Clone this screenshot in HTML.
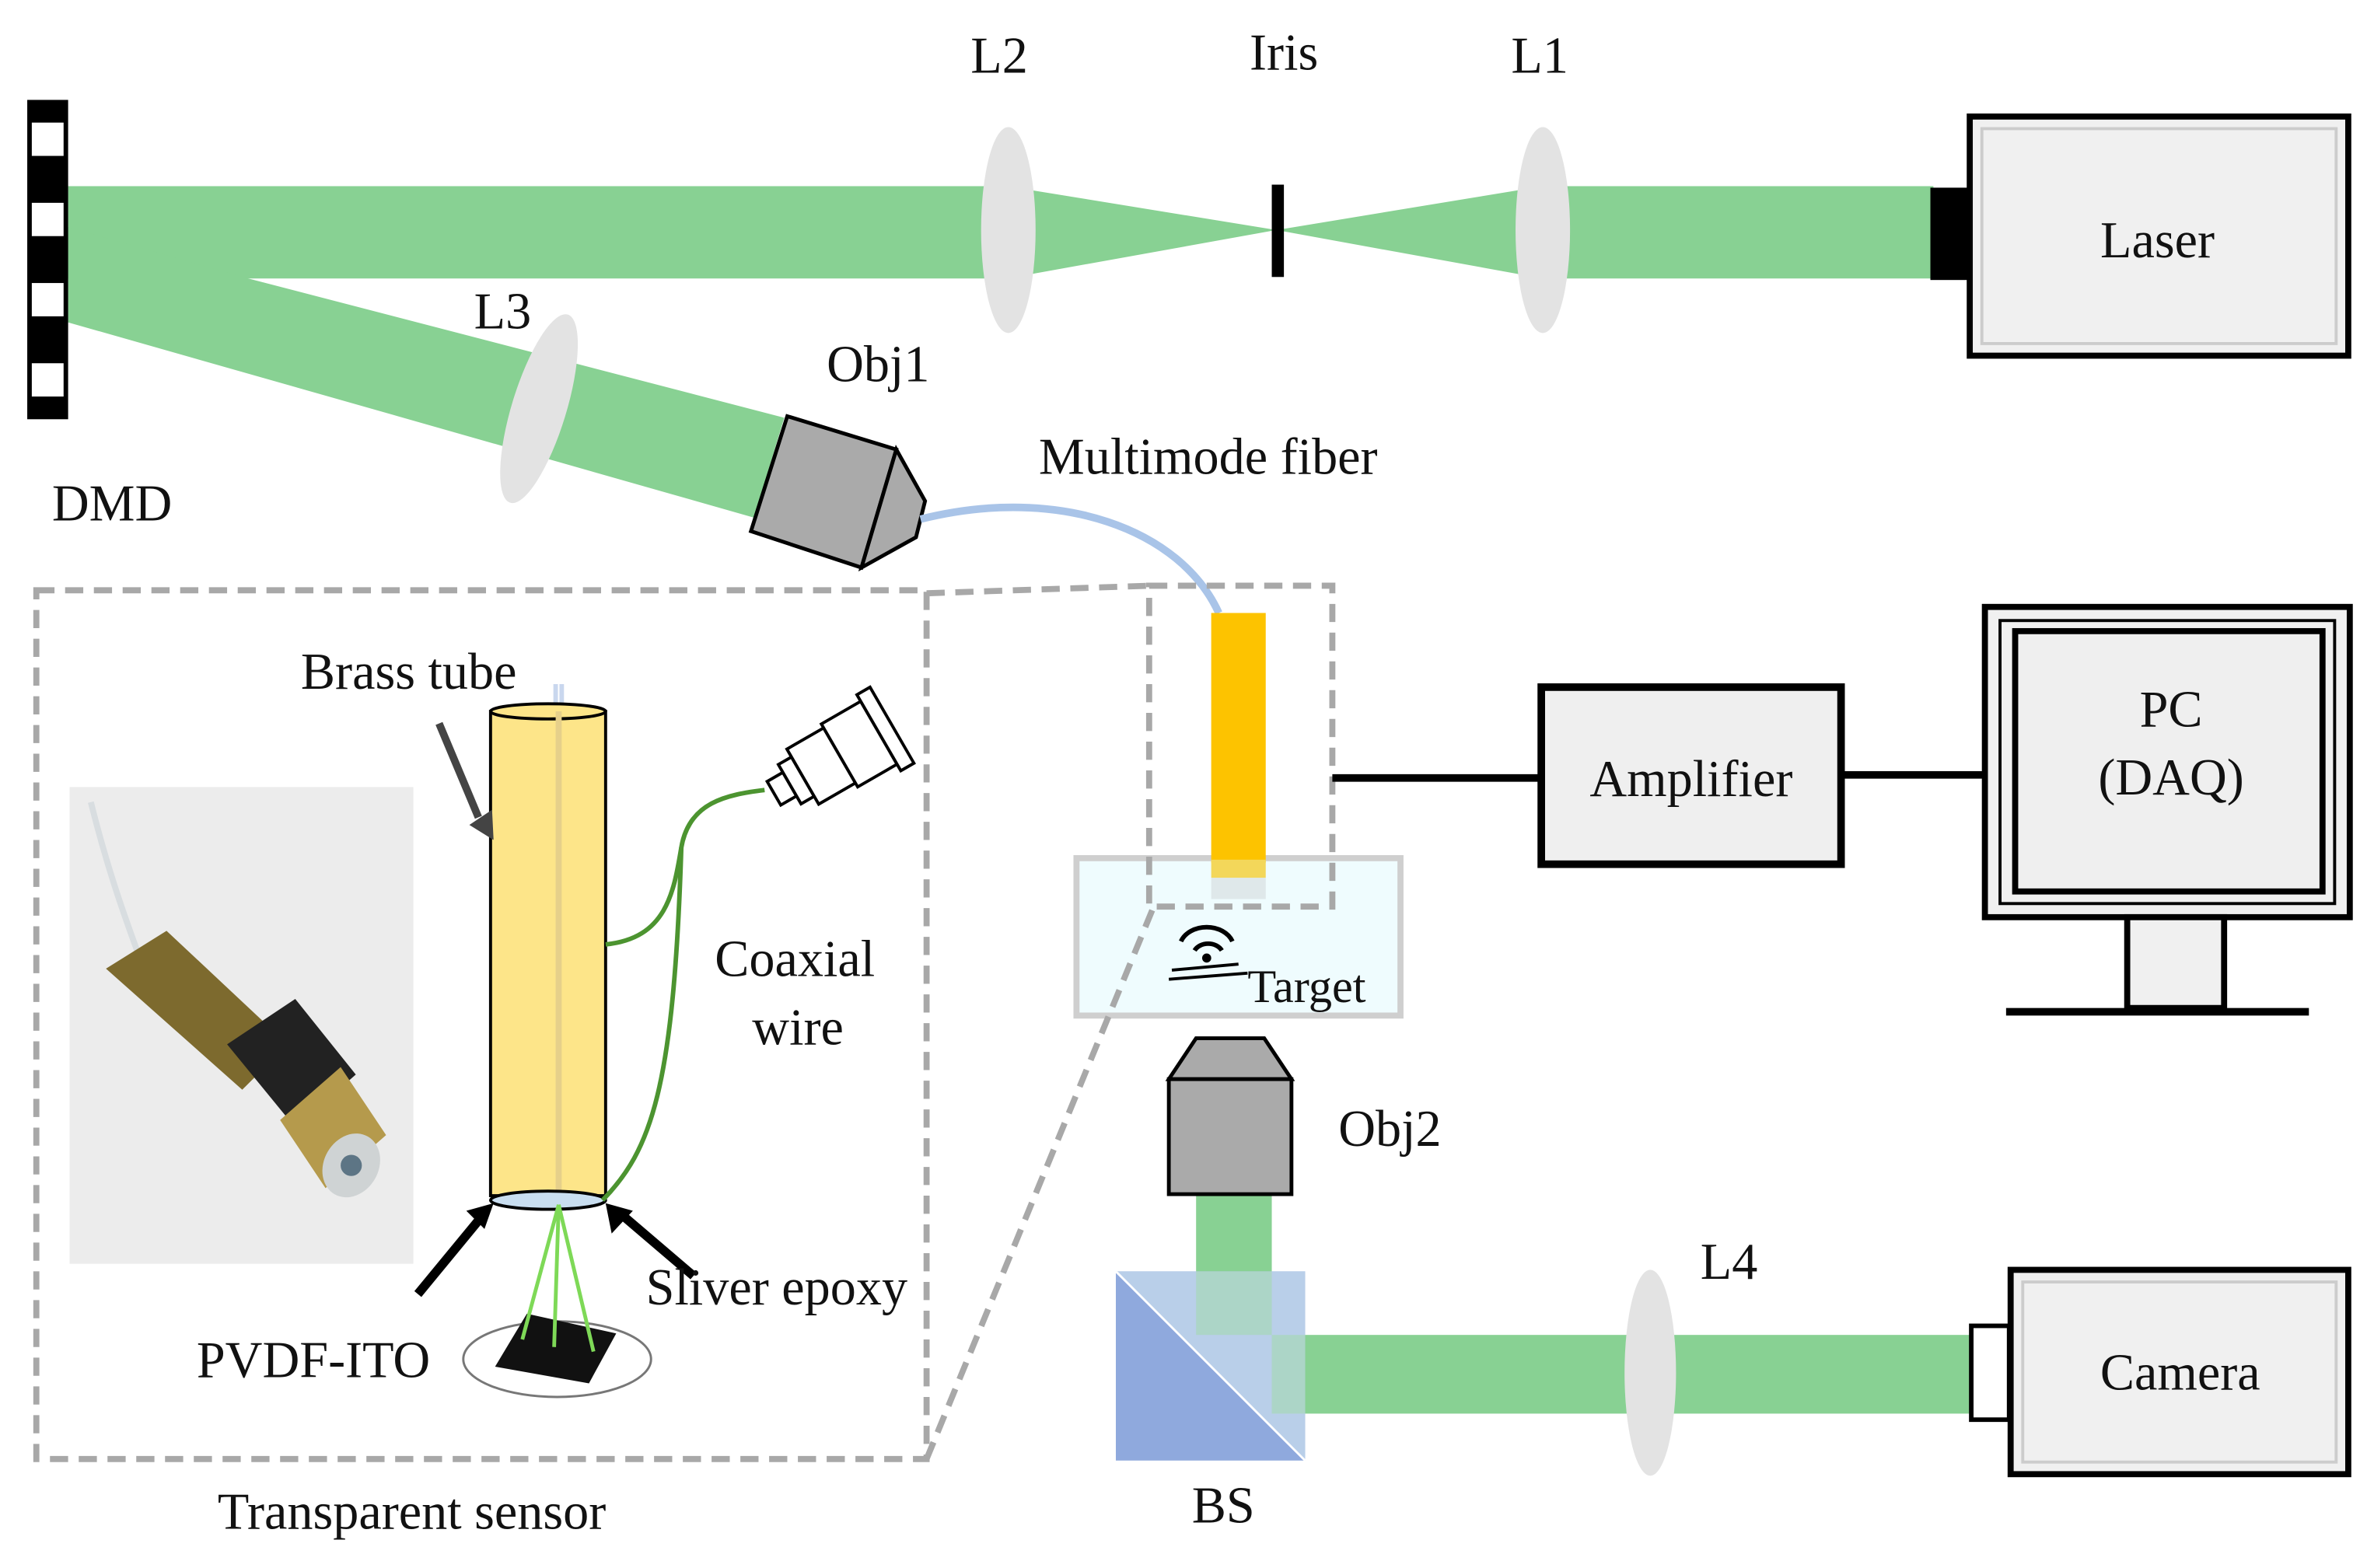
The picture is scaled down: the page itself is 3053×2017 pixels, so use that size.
<!DOCTYPE html>
<html><head><meta charset="utf-8"><style>
html,body{margin:0;padding:0;background:#fff;}
svg{display:block;}
text{font-family:"Liberation Serif",serif;fill:#111;}
</style></head><body>
<svg width="3053" height="2017" viewBox="0 0 1568 1036" preserveAspectRatio="none" xmlns="http://www.w3.org/2000/svg">
<rect width="1568" height="1036" fill="#fff"/>
<g fill="#88d193">
<rect x="45" y="123" width="620" height="61"/>
<polygon points="665,123 843,152 665,184"/>
<polygon points="843,152 1019,123 1019,184"/>
<rect x="1019" y="123" width="258" height="61"/>
<polygon points="45,150 164,184 518,276 498,342 45,213"/>
<rect x="790" y="788" width="50" height="60"/>
<rect x="862" y="882" width="440" height="52"/>
</g>
<rect x="18" y="66" width="27" height="211" fill="#000"/>
<g fill="#fff"><rect x="21" y="81" width="21" height="22"/><rect x="21" y="134" width="21" height="22"/><rect x="21" y="187" width="21" height="22"/><rect x="21" y="240" width="21" height="22"/></g>
<g fill="#e3e3e3">
<ellipse cx="666" cy="152" rx="18" ry="68"/>
<ellipse cx="1019" cy="152" rx="18" ry="68"/>
<ellipse cx="356" cy="270" rx="18" ry="65" transform="rotate(17 356 270)"/>
<ellipse cx="1090" cy="907" rx="17" ry="68"/>
</g>
<rect x="840" y="122" width="8" height="61" fill="#000"/>
<rect x="1275" y="124" width="27" height="61" fill="#000"/>
<rect x="1301" y="77" width="250" height="158" fill="#f0f0f0" stroke="#000" stroke-width="4"/>
<rect x="1309" y="85" width="234" height="142" fill="none" stroke="#ccc" stroke-width="2"/>
<polygon points="520,275 592,297 569,375 496,351" fill="#aaa" stroke="#000" stroke-width="2.5"/>
<polygon points="592,297 611,331 605,355 569,375" fill="#aaa" stroke="#000" stroke-width="2.5"/>
<path d="M608,343 C700,320 780,350 805,405" fill="none" stroke="#a9c4e8" stroke-width="5"/>
<rect x="711" y="567" width="214" height="104" fill="#effcfe" stroke="#cfcfcf" stroke-width="4"/>
<rect x="800" y="405" width="36" height="165" fill="#fdc300"/>
<rect x="800" y="568" width="36" height="12" fill="#f3d75a"/>
<rect x="800" y="580" width="36" height="14" fill="#dfe8ea"/>
<rect x="759" y="387" width="121" height="212" fill="none" stroke="#a8a8a8" stroke-width="4" stroke-dasharray="12,7"/>
<path d="M780,622 a18,14 0 0 1 34,0" fill="none" stroke="#000" stroke-width="3"/>
<path d="M789,628 a10,8 0 0 1 18,0" fill="none" stroke="#000" stroke-width="3"/>
<circle cx="797" cy="633" r="3" fill="#000"/>
<line x1="774" y1="641" x2="818" y2="637" stroke="#000" stroke-width="2"/>
<line x1="772" y1="647" x2="824" y2="643" stroke="#000" stroke-width="2"/>
<text x="824" y="662" font-size="31">Target</text>
<polygon points="790,686 835,686 853,713 772,713" fill="#aaa" stroke="#000" stroke-width="2.5"/>
<rect x="772" y="713" width="81" height="76" fill="#aaa" stroke="#000" stroke-width="2.5"/>
<rect x="737" y="840" width="125" height="125" fill="#8fa9dd"/>
<polygon points="737,840 862,840 862,965" fill="#b9cfe9"/>
<rect x="790" y="840" width="50" height="42" fill="#a6d7b8" opacity="0.7"/>
<rect x="840" y="882" width="22" height="52" fill="#a6d7b8" opacity="0.7"/>
<line x1="737" y1="840" x2="862" y2="965" stroke="#fff" stroke-width="1.5"/>
<rect x="1302" y="876" width="25" height="62" fill="#fff" stroke="#000" stroke-width="3"/>
<rect x="1328" y="839" width="223" height="135" fill="#f0f0f0" stroke="#000" stroke-width="4"/>
<rect x="1336" y="847" width="207" height="119" fill="none" stroke="#ccc" stroke-width="2"/>
<line x1="880" y1="514" x2="1018" y2="514" stroke="#000" stroke-width="5"/>
<rect x="1018" y="454" width="198" height="117" fill="#efefef" stroke="#000" stroke-width="5"/>
<line x1="1216" y1="512" x2="1310" y2="512" stroke="#000" stroke-width="5"/>
<rect x="1311" y="401" width="241" height="205" fill="#f0f0f0" stroke="#000" stroke-width="4"/>
<rect x="1321" y="410" width="221" height="187" fill="none" stroke="#000" stroke-width="2"/>
<rect x="1331" y="417" width="203" height="172" fill="#efefef" stroke="#000" stroke-width="4"/>
<rect x="1405" y="606" width="64" height="60" fill="#f0f0f0" stroke="#000" stroke-width="4"/>
<rect x="1325" y="666" width="200" height="5" fill="#000"/>
<rect x="24" y="390" width="588" height="574" fill="none" stroke="#a8a8a8" stroke-width="4" stroke-dasharray="12,7"/>
<line x1="612" y1="392" x2="759" y2="387" stroke="#a8a8a8" stroke-width="4" stroke-dasharray="12,7"/>
<line x1="612" y1="964" x2="762" y2="599" stroke="#a8a8a8" stroke-width="4" stroke-dasharray="12,7"/>
<rect x="46" y="520" width="227" height="315" fill="#ececec"/>
<path d="M60,530 C70,570 80,600 95,640" stroke="#d8dde0" stroke-width="4" fill="none"/>
<polygon points="70,640 110,615 190,690 160,720" fill="#7d6a2e"/>
<polygon points="150,690 195,660 235,710 195,745" fill="#222"/>
<polygon points="185,740 225,705 255,750 215,785" fill="#b59a4c"/>
<ellipse cx="232" cy="770" rx="18" ry="22" fill="#cfd3d4" transform="rotate(30 232 770)"/>
<circle cx="232" cy="770" r="7" fill="#5d7585"/>
<line x1="367" y1="452" x2="367" y2="470" stroke="#c9d7ee" stroke-width="3"/>
<line x1="371" y1="452" x2="371" y2="470" stroke="#c9d7ee" stroke-width="3"/>
<rect x="324" y="470" width="76" height="320" fill="#fde589" stroke="#000" stroke-width="2"/>
<ellipse cx="362" cy="470" rx="38" ry="5" fill="#fde589" stroke="#000" stroke-width="2"/>
<line x1="369" y1="470" x2="369" y2="790" stroke="#e6d08a" stroke-width="4"/>
<ellipse cx="362" cy="793" rx="38" ry="6" fill="#c9def0" stroke="#000" stroke-width="2"/>
<line x1="290" y1="478" x2="316" y2="540" stroke="#444" stroke-width="5"/>
<polygon points="310,545 326,555 325,535" fill="#444"/>
<ellipse cx="368" cy="898" rx="62" ry="25" fill="#fff" stroke="#777" stroke-width="1.5"/>
<polygon points="348,868 407,881 389,914 327,903" fill="#111"/>
<g stroke="#7ed957" stroke-width="2.5"><line x1="369" y1="796" x2="345" y2="885"/><line x1="369" y1="796" x2="366" y2="890"/><line x1="369" y1="796" x2="392" y2="893"/></g>
<path d="M400,624 C440,620 445,590 450,560 C455,530 480,525 505,522" fill="none" stroke="#4c9430" stroke-width="3"/>
<path d="M398,793 C430,760 445,720 450,560" fill="none" stroke="#4c9430" stroke-width="3"/>
<g transform="rotate(-30 555 500)" fill="#fff" stroke="#000" stroke-width="2">
<rect x="505" y="490" width="12" height="18"/>
<rect x="517" y="484" width="10" height="30"/>
<rect x="527" y="478" width="28" height="42"/>
<rect x="555" y="475" width="30" height="48"/>
<rect x="585" y="470" width="10" height="58"/>
</g>
<line x1="276" y1="855" x2="318" y2="804" stroke="#000" stroke-width="6"/>
<polygon points="326,795 308,800 320,812" fill="#000"/>
<line x1="458" y1="843" x2="410" y2="802" stroke="#000" stroke-width="6"/>
<polygon points="400,795 404,815 418,800" fill="#000"/>
<g font-size="34" text-anchor="middle">
<text x="660" y="48">L2</text>
<text x="848" y="46">Iris</text>
<text x="1017" y="48">L1</text>
<text x="1425" y="170">Laser</text>
<text x="332" y="217">L3</text>
<text x="580" y="252">Obj1</text>
<text x="74" y="344">DMD</text>
<text x="798" y="313">Multimode fiber</text>
<text x="1117" y="526">Amplifier</text>
<text x="1434" y="480">PC</text>
<text x="1434" y="525">(DAQ)</text>
<text x="918" y="757">Obj2</text>
<text x="1142" y="845">L4</text>
<text x="1440" y="918">Camera</text>
<text x="808" y="1006">BS</text>
<text x="270" y="455">Brass tube</text>
<text x="525" y="645">Coaxial</text>
<text x="527" y="690">wire</text>
<text x="513" y="862">Sliver epoxy</text>
<text x="207" y="910">PVDF-ITO</text>
<text x="272" y="1010">Transparent sensor</text>
</g>
</svg>
</body></html>
